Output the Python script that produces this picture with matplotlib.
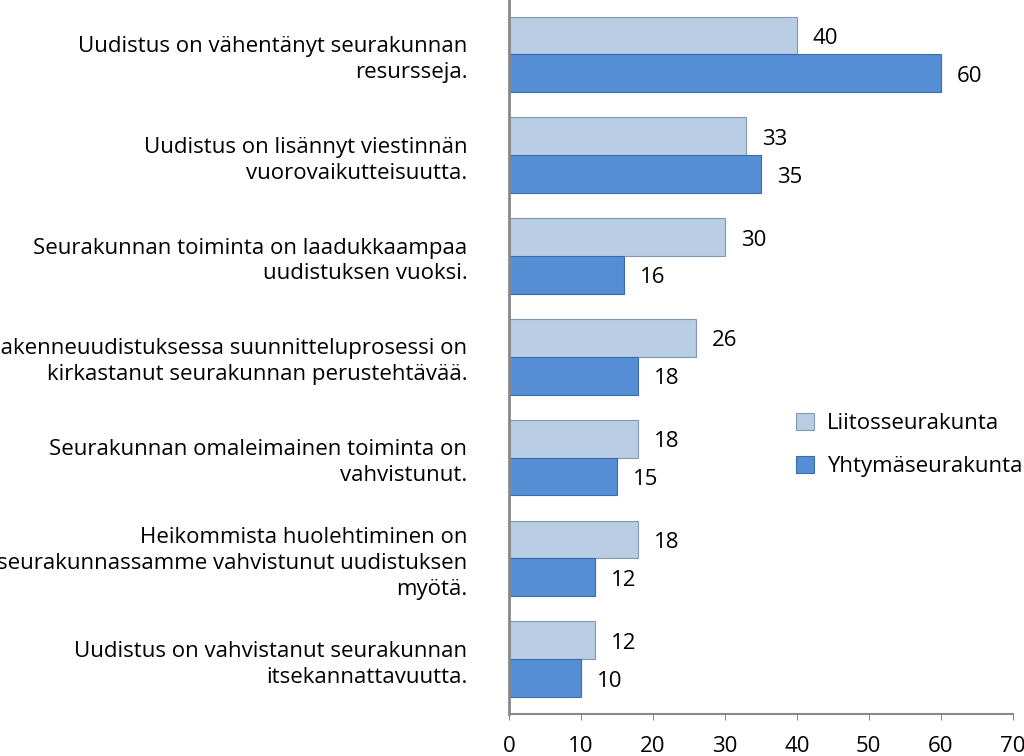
import matplotlib.pyplot as plt
import numpy as np

categories = [
    "Uudistus on vähentänyt seurakunnan\nresursseja.",
    "Uudistus on lisännyt viestinnän\nvuorovaikutteisuutta.",
    "Seurakunnan toiminta on laadukkaampaa\nuudistuksen vuoksi.",
    "Rakenneuudistuksessa suunnitteluprosessi on\nkirkastanut seurakunnan perustehtävää.",
    "Seurakunnan omaleimainen toiminta on\nvahvistunut.",
    "Heikommista huolehtiminen on\nseurakunnassamme vahvistunut uudistuksen\nmyötä.",
    "Uudistus on vahvistanut seurakunnan\nitsekannattavuutta.",
]
liitos = [40, 33, 30, 26, 18, 18, 12]
yhtyma = [60, 35, 16, 18, 15, 12, 10]

plt.rcParams["font.family"] = "Open Sans"
fig = plt.figure(figsize=(10.24, 7.56), dpi=100)
ax = fig.add_axes([0.497, 0.056, 0.492, 0.944])

y = np.arange(len(categories))
h = 0.375
b1 = ax.barh(y - h / 2, liitos, h, color="#B9CDE5", edgecolor="#8497B0", linewidth=0.8, label="Liitosseurakunta")
b2 = ax.barh(y + h / 2, yhtyma, h, color="#558ED5", edgecolor="#3A6BA8", linewidth=0.8, label="Yhtymäseurakunta")
for bars, vals in ((b1, liitos), (b2, yhtyma)):
    for bar, v in zip(bars, vals):
        ax.text(v + 2.2, bar.get_y() + bar.get_height() / 2 + 0.03, str(v),
                va="center", ha="left", fontsize=16)

ax.set_ylim(len(categories) - 0.5 + 0.04, -0.5 - 0.04)
ax.set_xlim(0, 70)
ax.set_yticks(y)
ax.set_yticklabels(categories, fontsize=16, ha="right", linespacing=1.3)
ax.tick_params(axis="y", length=0, pad=30)
ax.set_xticks(range(0, 71, 10))
ax.tick_params(axis="x", labelsize=16, length=4, color="#888888", pad=12)
for s in ("top", "right"):
    ax.spines[s].set_visible(False)
ax.spines["left"].set_color("#888888")
ax.spines["left"].set_linewidth(2)
ax.spines["bottom"].set_color("#888888")
ax.spines["bottom"].set_linewidth(1.5)

ax.legend(loc="upper left", bbox_to_anchor=(0.53, 0.45), frameon=False,
          fontsize=16, handlelength=0.8, handleheight=0.8, labelspacing=1.0,
          handletextpad=0.6)

fig.savefig("out.png", dpi=100)
